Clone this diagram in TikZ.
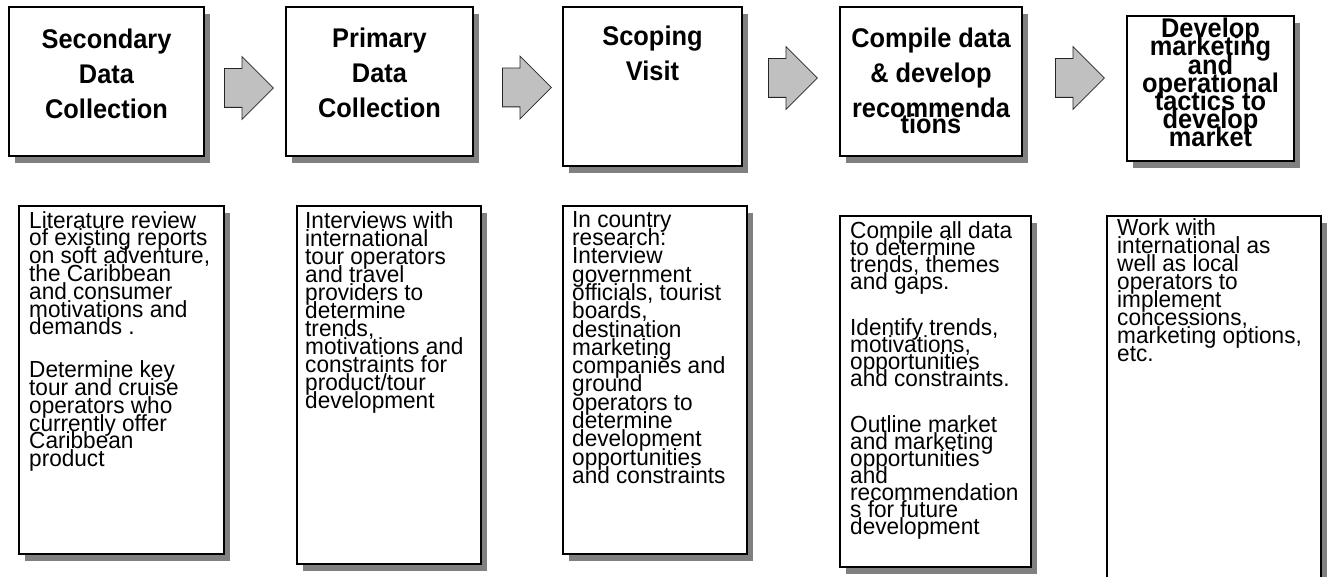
\documentclass[tikz,border=0pt]{standalone}
\usepackage{fontspec}
\setmainfont{Liberation Sans}
\newfontfamily\bodyfont[FakeStretch=0.97]{Liberation Sans}
\newfontfamily\headfont[FakeStretch=0.94]{Liberation Sans}
\usetikzlibrary{shapes.arrows,shadows}
\definecolor{shadowgray}{HTML}{808080}
\definecolor{arrowgray}{HTML}{C0C0C0}
\lineskiplimit=-100pt
\begin{document}
\begin{tikzpicture}[x=1pt,y=-1pt,
  box/.style={draw=black, line width=1.1pt, fill=white, inner sep=0pt, outer sep=0pt,
    anchor=north west,
    drop shadow={shadow xshift=6pt, shadow yshift=-7pt, fill=shadowgray, opacity=1, draw=none}},
  blockarrow/.style={single arrow, draw=black!85, fill=arrowgray, line width=0.8pt,
    minimum height=49pt, inner xsep=0pt, inner ysep=19pt,
    single arrow head extend=12pt, single arrow tip angle=90, anchor=tail},
  headtext/.style={font={\headfont\bfseries\fontsize{27}{35}\selectfont},
    align=center, inner sep=0pt, anchor=north},
  bodytext/.style={font={\bodyfont\fontsize{23.3}{18}\selectfont},
    align=left, inner sep=0pt, anchor=north west}]
\lineskiplimit=-100pt
\useasboundingbox (0,0) rectangle (1331,577);
\clip (0,0) rectangle (1331,577);

% top boxes
\node[box, minimum width=195pt, minimum height=149pt] (b1) at (9,7) {};
\node[box, minimum width=187pt, minimum height=149pt] (b2) at (286,7) {};
\node[box, minimum width=179pt, minimum height=159pt] (b3) at (563,7) {};
\node[box, minimum width=182pt, minimum height=149pt] (b4) at (840,7) {};
\node[box, minimum width=167pt, minimum height=145pt] (b5) at (1127,16) {};

\node[headtext] (t1) at (106.5,29) {Secondary\\Data\\Collection};
\node[headtext] (t2) at (379.5,28) {Primary\\Data\\Collection};
\node[headtext] (t3) at (652.5,26) {Scoping\\Visit};
\node[headtext] (t4) at (931,28) {Compile data\\\& develop\\recommenda\\[-19pt]tions};
\node[headtext, font={\headfont\bfseries\fontsize{27}{18.2}\selectfont}] (t5) at (1210.5,18)
  {Develop\\marketing\\and\\operational\\tactics to\\develop\\market};

% block arrows
\node[blockarrow] (a1) at (224,88) {};
\node[blockarrow] (a2) at (502,87.5) {};
\node[blockarrow] (a3) at (768,78) {};
\node[blockarrow] (a4) at (1055,78) {};

% bottom boxes
\node[box, minimum width=205pt, minimum height=348pt] (d1) at (19,206) {};
\node[box, minimum width=184pt, minimum height=358pt] (d2) at (297,206) {};
\node[box, minimum width=184pt, minimum height=348pt] (d3) at (563,206) {};
\node[box, minimum width=191pt, minimum height=351pt] (d4) at (840,216) {};
\node[box, minimum width=214pt, minimum height=400pt] (d5) at (1107,216) {};

\node[bodytext, font={\bodyfont\fontsize{23.3}{17.8}\selectfont}] (p1) at (29,211) {Literature review\\of existing reports\\on soft adventure,\\the Caribbean\\and consumer\\motivations and\\demands .\\[25pt]Determine key\\tour and cruise\\operators who\\currently offer\\Caribbean\\product};
\node[bodytext] (p2) at (305,211) {Interviews with\\international\\tour operators\\and travel\\providers to\\determine\\trends,\\motivations and\\constraints for\\product/tour\\development};
\node[bodytext, font={\bodyfont\fontsize{23.3}{18.3}\selectfont}] (p3) at (572,211) {In country\\research:\\Interview\\government\\officials, tourist\\boards,\\destination\\marketing\\companies and\\ground\\operators to\\determine\\development\\opportunities\\and constraints};
\node[bodytext, font={\bodyfont\fontsize{23.3}{17}\selectfont}] (p4) at (850,221) {Compile all data\\to determine\\trends, themes\\and gaps.\\[29pt]Identify trends,\\motivations,\\opportunities\\and constraints.\\[29pt]Outline market\\and marketing\\opportunities\\and\\recommendation\\s for future\\development};
\node[bodytext] (p5) at (1117,218) {Work with\\international as\\well as local\\operators to\\implement\\concessions,\\marketing options,\\etc.};
\end{tikzpicture}
\end{document}
